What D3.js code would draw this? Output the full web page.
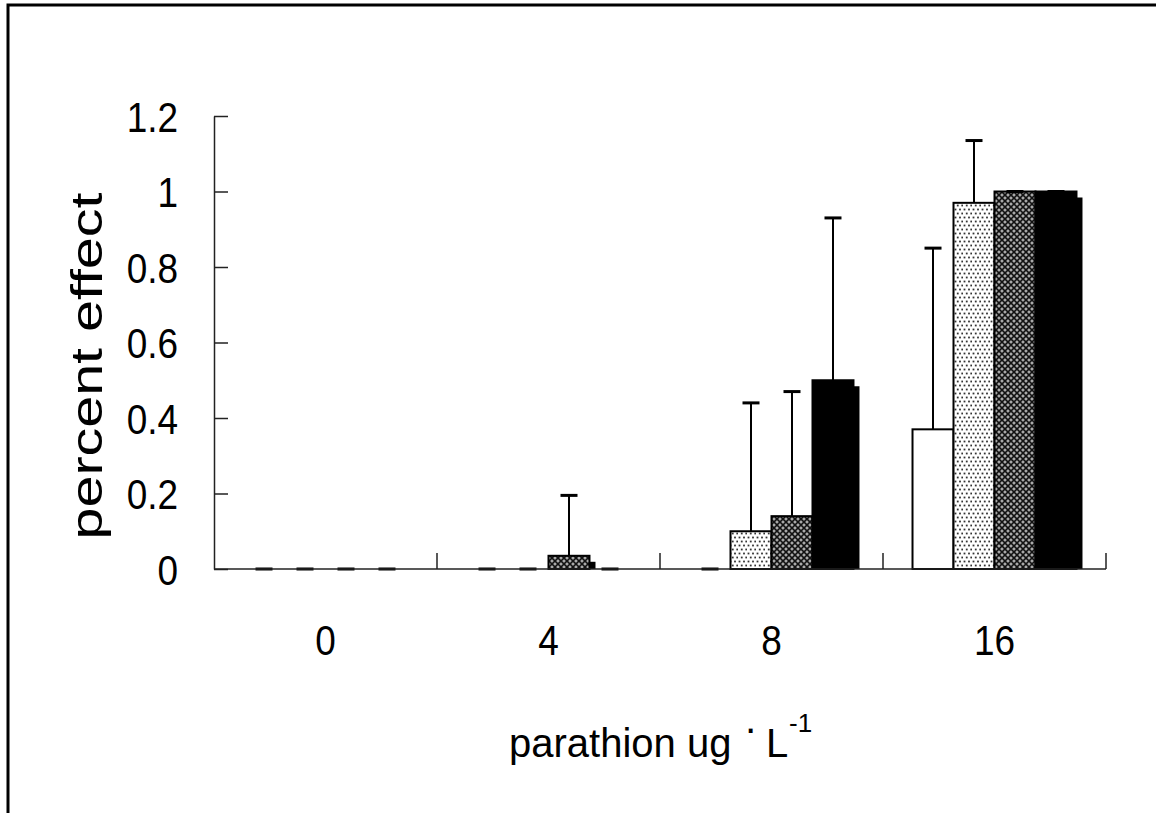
<!doctype html>
<html lang="en">
<head>
<meta charset="utf-8" />
<title>percent effect vs parathion</title>
<script src="https://cdn.jsdelivr.net/npm/d3@7"></script>
<style>
  body { margin: 0; background: #fff; }
  svg text { font-family: "Liberation Sans", Arial, sans-serif; fill: #000; }
</style>
</head>
<body>
<script>
// data
var categories = ["0", "4", "8", "16"];
var seriesNames = ["s1", "s2", "s3", "s4"];
var s1 = [0, 0, 0, 0.37];
var s2 = [0, 0, 0.10, 0.97];
var s3 = [0, 0.035, 0.14, 1.0];
var s4 = [0, 0, 0.50, 1.0];
var err1 = [0, 0, 0, 0.48];
var err2 = [0, 0, 0.34, 0.165];
var err3 = [0, 0.16, 0.33, 0];
var err4 = [0, 0, 0.43, 0];
var yTicks = [0, 0.2, 0.4, 0.6, 0.8, 1, 1.2];

var values = [s1, s2, s3, s4];
var errors = [err1, err2, err3, err4];
var fills = ["#fff", "url(#dots)", "url(#hatch)", "#000"];

var w = 1156, h = 813;
var plotLeft = 214, plotRight = 1106, plotTop = 116, plotBottom = 569;

var svg = d3.select("body").append("svg")
  .attr("width", w).attr("height", h);

// patterns
var defs = svg.append("defs");
var dots = defs.append("pattern").attr("id", "dots")
  .attr("patternUnits", "userSpaceOnUse").attr("width", 9).attr("height", 8);
dots.append("rect").attr("width", 9).attr("height", 8).attr("fill", "#fff");
[[1.5, 1.5], [6, 1.5], [3.75, 5.5], [8.25, 5.5]].forEach(function(p) {
  dots.append("rect").attr("x", p[0] - 0.9).attr("y", p[1] - 0.9)
    .attr("width", 1.8).attr("height", 1.8).attr("fill", "#333");
});
var hatch = defs.append("pattern").attr("id", "hatch")
  .attr("patternUnits", "userSpaceOnUse").attr("width", 6).attr("height", 6);
hatch.append("rect").attr("width", 6).attr("height", 6).attr("fill", "#808080");
hatch.append("path").attr("d", "M0,0L6,6M6,0L0,6")
  .attr("stroke", "#111").attr("stroke-width", 1.4);
[[3, 0], [3, 6], [0, 3], [6, 3]].forEach(function(p) {
  hatch.append("rect").attr("x", p[0] - 0.6).attr("y", p[1] - 0.6)
    .attr("width", 1.2).attr("height", 1.2).attr("fill", "#eee");
});

defs.append("clipPath").attr("id", "plotclip")
  .append("rect").attr("x", plotLeft).attr("y", 0)
  .attr("width", plotRight - plotLeft + 20).attr("height", plotBottom);

// outer frame
svg.append("rect").attr("x", 8).attr("y", 5).attr("width", 1170).attr("height", 830)
  .attr("fill", "none").attr("stroke", "#000").attr("stroke-width", 3);

var x0 = d3.scaleBand().domain(categories).range([plotLeft, plotRight]).paddingInner(0).paddingOuter(0);
var x1 = d3.scaleBand().domain(seriesNames).range([0, x0.bandwidth()])
  .paddingInner(0).paddingOuter(0.72);
var y = d3.scaleLinear().domain([0, 1.2]).range([plotBottom, plotTop]);

var rows = [];
seriesNames.forEach(function(s, si) {
  categories.forEach(function(c, ci) {
    rows.push({ s: s, si: si, c: c, v: values[si][ci], e: errors[si][ci] });
  });
});
var filled = rows.filter(function(d) { return d.v > 0; });

// drop shadows first
svg.append("g").attr("clip-path", "url(#plotclip)")
  .selectAll("rect").data(filled).enter()
  .append("rect")
  .attr("x", function(d) { return x0(d.c) + x1(d.s) + 6; })
  .attr("y", function(d) { return y(d.v) + 6; })
  .attr("width", x1.bandwidth())
  .attr("height", function(d) { return y(0) - y(d.v); })
  .attr("fill", "#000");

// bars
svg.append("g").selectAll("rect")
  .data(filled).enter()
  .append("rect")
  .attr("x", function(d) { return x0(d.c) + x1(d.s); })
  .attr("y", function(d) { return y(d.v); })
  .attr("width", x1.bandwidth())
  .attr("height", function(d) { return y(0) - y(d.v); })
  .attr("fill", function(d) { return fills[d.si]; })
  .attr("stroke", "#000").attr("stroke-width", 2);

// error bars (upper only)
function cx(d) { return x0(d.c) + x1(d.s) + x1.bandwidth() / 2; }
var eb = svg.append("g").selectAll("g").data(rows).enter().append("g");
eb.append("line")
  .attr("x1", cx).attr("x2", cx)
  .attr("y1", function(d) { return y(d.v); })
  .attr("y2", function(d) { return y(d.v + d.e); })
  .attr("stroke", "#000").attr("stroke-width", 2);
eb.append("line")
  .attr("x1", function(d) { return cx(d) - 8.5; })
  .attr("x2", function(d) { return cx(d) + 8.5; })
  .attr("y1", function(d) { return y(d.v + d.e); })
  .attr("y2", function(d) { return y(d.v + d.e); })
  .attr("stroke", "#000").attr("stroke-width", 3);

// y axis
var yAxis = svg.append("g").attr("transform", "translate(" + plotLeft + ",0)")
  .call(d3.axisLeft(y).tickValues(yTicks).tickSizeInner(-14).tickSizeOuter(0)
    .tickPadding(36).tickFormat(function(d) { return String(+d.toFixed(1)); }));
yAxis.select(".domain").attr("stroke", "#222").attr("stroke-width", 1.5);
yAxis.selectAll(".tick line").attr("stroke", "#222").attr("stroke-width", 1.5);
yAxis.selectAll(".tick text")
  .attr("font-size", 42).attr("font-family", "Liberation Sans, Arial, sans-serif")
  .attr("dy", "0.36em")
  .each(function() {
    var t = d3.select(this), tx = +t.attr("x");
    t.attr("x", 0).attr("transform", "translate(" + tx + ",0) scale(0.88,1)");
  });

// x axis: line plus boundary ticks
var xAxis = svg.append("g").attr("transform", "translate(0," + plotBottom + ")");
xAxis.append("line").attr("x1", plotLeft).attr("x2", plotRight).attr("y1", 0).attr("y2", 0)
  .attr("stroke", "#222").attr("stroke-width", 1.5);
xAxis.selectAll(".bt").data(categories).enter().append("line")
  .attr("x1", function(c) { return x0(c) + x0.bandwidth(); })
  .attr("x2", function(c) { return x0(c) + x0.bandwidth(); })
  .attr("y1", 0).attr("y2", -16)
  .attr("stroke", "#222").attr("stroke-width", 1.5);
xAxis.selectAll(".cl").data(categories).enter().append("text")
  .attr("text-anchor", "middle").attr("font-size", 42)
  .attr("transform", function(c) {
    return "translate(" + (x0(c) + x0.bandwidth() / 2) + ",86) scale(0.88,1)";
  })
  .text(function(c) { return c; });

// axis titles
svg.append("text")
  .attr("transform", "translate(102,366) rotate(-90)")
  .attr("text-anchor", "middle").attr("font-size", 45)
  .attr("textLength", 347).attr("lengthAdjust", "spacingAndGlyphs")
  .text("percent effect");

var xt = svg.append("text").attr("font-size", 40);
xt.append("tspan").attr("x", 509).attr("y", 757).text("parathion ug");
xt.append("tspan").attr("x", 744).attr("y", 742).text("·");
xt.append("tspan").attr("x", 766).attr("y", 757).text("L");
xt.append("tspan").attr("x", 789).attr("y", 732).attr("font-size", 26).text("-1");
</script>
</body>
</html>
